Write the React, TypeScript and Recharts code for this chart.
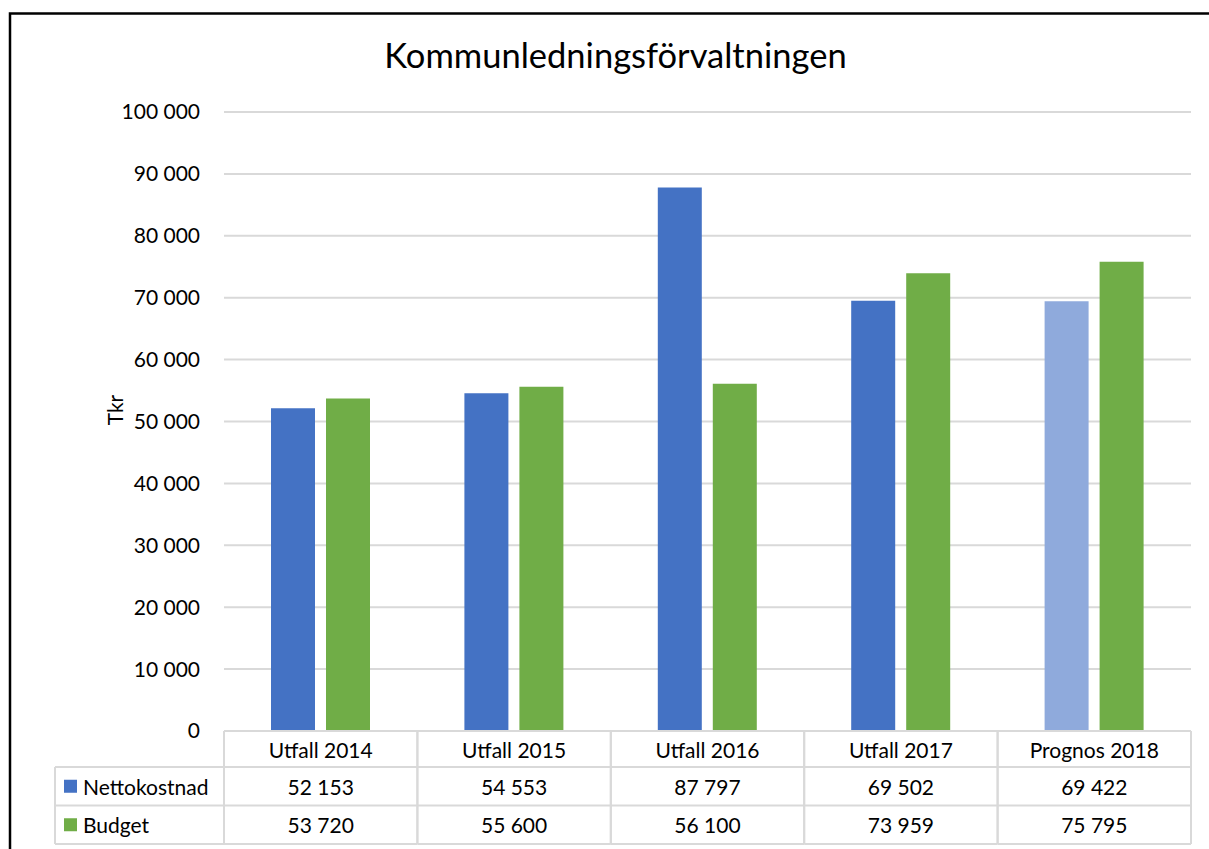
import React from 'react';
import { BarChart, Bar, XAxis, YAxis, CartesianGrid, Cell } from 'recharts';

const categories = ['Utfall 2014', 'Utfall 2015', 'Utfall 2016', 'Utfall 2017', 'Prognos 2018'];
const nettokostnad = [52153, 54553, 87797, 69502, 69422];
const budget = [53720, 55600, 56100, 73959, 75795];
const yTicks = [0, 10000, 20000, 30000, 40000, 50000, 60000, 70000, 80000, 90000, 100000];
const seriesNames = ['Nettokostnad', 'Budget'];
const title = 'Kommunledningsförvaltningen';
const yLabel = 'Tkr';

const data = categories.map((c, i) => ({ name: c, netto: nettokostnad[i], budget: budget[i] }));

const W = 1209;
const H = 849;
const MARGIN = { top: 112, right: 18, left: 4, bottom: 5 };
const Y_AXIS_W = 220;
const X_AXIS_H = 113;
const PLOT_LEFT = MARGIN.left + Y_AXIS_W;
const PLOT_RIGHT = W - MARGIN.right;
const PLOT_BOTTOM = H - MARGIN.bottom - X_AXIS_H;
const PLOT_W = PLOT_RIGHT - PLOT_LEFT;

const BLUE = '#4472C4';
const LIGHT_BLUE = '#8FAADC';
const GREEN = '#70AD47';
const GRID = '#D9D9D9';
const FONT = 'Lato, "Open Sans", sans-serif';
const FS = 21;

const fmt = (v: number) => String(v).replace(/\B(?=(\d{3})+(?!\d))/g, ' ');

const ROW_H0 = 36;
const ROW_H = 38.5;
const LEGEND_LEFT = 55;

function TableTick(props: any) {
  const { x, payload } = props;
  const i = payload.index;
  const cw = PLOT_W / categories.length;
  const left = x - cw / 2;
  const right = x + cw / 2;
  const top = PLOT_BOTTOM;
  const r1 = top + ROW_H0;
  const r2 = r1 + ROW_H;
  const r3 = r2 + ROW_H;
  const textProps = { fontFamily: FONT, fontSize: FS, fontWeight: 400, fill: '#000', dominantBaseline: 'central' as const };
  return (
    <g>
      <line x1={left} x2={right} y1={top} y2={top} stroke={GRID} strokeWidth={2} />
      <line x1={left} x2={right} y1={r1} y2={r1} stroke={GRID} strokeWidth={2} />
      <line x1={left} x2={right} y1={r2} y2={r2} stroke={GRID} strokeWidth={2} />
      <line x1={left} x2={right} y1={r3} y2={r3} stroke={GRID} strokeWidth={2} />
      <line x1={left} x2={left} y1={top} y2={r3} stroke={GRID} strokeWidth={2} />
      <line x1={right} x2={right} y1={top} y2={r3} stroke={GRID} strokeWidth={2} />
      <text x={x} y={(top + r1) / 2} textAnchor="middle" {...textProps}>{payload.value}</text>
      <text x={x} y={(r1 + r2) / 2} textAnchor="middle" {...textProps}>{fmt(nettokostnad[i])}</text>
      <text x={x} y={(r2 + r3) / 2} textAnchor="middle" {...textProps}>{fmt(budget[i])}</text>
      {i === 0 && (
        <g>
          <line x1={LEGEND_LEFT} x2={left} y1={r1} y2={r1} stroke={GRID} strokeWidth={2} />
          <line x1={LEGEND_LEFT} x2={left} y1={r2} y2={r2} stroke={GRID} strokeWidth={2} />
          <line x1={LEGEND_LEFT} x2={left} y1={r3} y2={r3} stroke={GRID} strokeWidth={2} />
          <line x1={LEGEND_LEFT} x2={LEGEND_LEFT} y1={r1} y2={r3} stroke={GRID} strokeWidth={2} />
          <rect x={64} y={(r1 + r2) / 2 - 6.5} width={13} height={13} fill={BLUE} />
          <text x={83} y={(r1 + r2) / 2} textAnchor="start" {...textProps}>{seriesNames[0]}</text>
          <rect x={64} y={(r2 + r3) / 2 - 6.5} width={13} height={13} fill={GREEN} />
          <text x={83} y={(r2 + r3) / 2} textAnchor="start" {...textProps}>{seriesNames[1]}</text>
        </g>
      )}
    </g>
  );
}

export default function App() {
  return (
    <div style={{ position: 'absolute', left: 0, top: 0, width: W, height: H, background: '#fff', overflow: 'hidden' }}>
      <BarChart width={W} height={H} data={data} margin={MARGIN} barSize={44} barGap={11}>
        <CartesianGrid vertical={false} stroke={GRID} strokeWidth={2} />
        <XAxis
          dataKey="name"
          height={X_AXIS_H}
          axisLine={false}
          tickLine={false}
          interval={0}
          tick={<TableTick />}
        />
        <YAxis
          width={Y_AXIS_W}
          domain={[0, 100000]}
          ticks={yTicks}
          axisLine={false}
          tickLine={false}
          tickMargin={18}
          tickFormatter={fmt}
          tick={{ fontFamily: FONT, fontSize: FS, fontWeight: 400, fill: '#000' }}
          label={{
            content: () => (
              <text x={114} y={410} transform="rotate(-90 114 410)" textAnchor="middle" dominantBaseline="central" fontFamily={FONT} fontSize={FS} fill="#000">
                {yLabel}
              </text>
            ),
          }}
        />
        <Bar dataKey="netto" name={seriesNames[0]} fill={BLUE} isAnimationActive={false}>
          {data.map((d) => (
            <Cell key={d.name} fill={d.name.startsWith('Prognos') ? LIGHT_BLUE : BLUE} />
          ))}
        </Bar>
        <Bar dataKey="budget" name={seriesNames[1]} fill={GREEN} isAnimationActive={false} />
      </BarChart>
      <svg width={W} height={H} style={{ position: 'absolute', left: 0, top: 0, pointerEvents: 'none' }}>
        <rect x={10} y={13.5} width={1220} height={860} fill="none" stroke="#000" strokeWidth={2.5} />
        <text x={615.5} y={68} textAnchor="middle" fontFamily={FONT} fontSize={34.5} fill="#000">{title}</text>
      </svg>
    </div>
  );
}
